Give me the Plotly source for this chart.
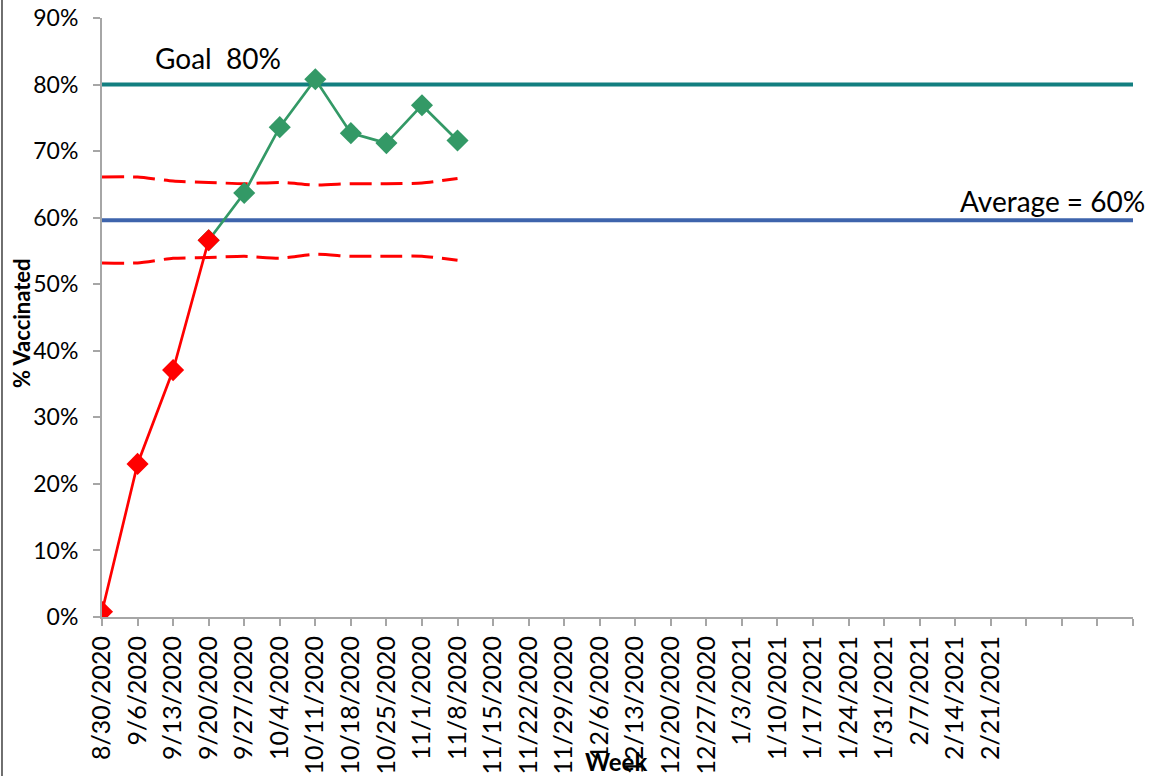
import plotly.graph_objects as go

weeks = ["8/30/2020", "9/6/2020", "9/13/2020", "9/20/2020", "9/27/2020", "10/4/2020",
         "10/11/2020", "10/18/2020", "10/25/2020", "11/1/2020", "11/8/2020", "11/15/2020",
         "11/22/2020", "11/29/2020", "12/6/2020", "12/13/2020", "12/20/2020", "12/27/2020",
         "1/3/2021", "1/10/2021", "1/17/2021", "1/24/2021", "1/31/2021", "2/7/2021",
         "2/14/2021", "2/21/2021", "", "", "", ""]

# % vaccinated (red = ramp-up phase, green = after process change)
red_idx = [0, 1, 2, 3]
red_vals = [0.008, 0.230, 0.371, 0.566]
green_idx = [3, 4, 5, 6, 7, 8, 9, 10]
green_vals = [0.566, 0.637, 0.736, 0.808, 0.727, 0.712, 0.769, 0.716]

# control limits
limit_idx = [0, 1, 2, 3, 4, 5, 6, 7, 8, 9, 10]
ucl = [0.661, 0.661, 0.655, 0.653, 0.651, 0.653, 0.649, 0.651, 0.651, 0.652, 0.659]
lcl = [0.532, 0.532, 0.539, 0.540, 0.542, 0.539, 0.545, 0.542, 0.542, 0.542, 0.536]

goal = 0.80
average = 0.596

FONT = "Lato"
fig = go.Figure()

fig.add_hline(y=goal, line=dict(color="#127F80", width=4), layer="below")
fig.add_hline(y=average, line=dict(color="#3E64AC", width=4), layer="below")

for lim in (ucl, lcl):
    fig.add_trace(go.Scatter(x=limit_idx, y=lim, mode="lines",
                             line=dict(color="#FF0000", width=3, dash="22px,9px", shape="spline", smoothing=0.6),
                             hoverinfo="skip"))
fig.add_trace(go.Scatter(x=green_idx, y=green_vals, mode="lines+markers",
                         line=dict(color="#339966", width=2.7),
                         marker=dict(symbol="diamond", size=17, color="#339966")))
fig.add_trace(go.Scatter(x=red_idx, y=red_vals, mode="lines+markers",
                         line=dict(color="#FF0000", width=2.7),
                         marker=dict(symbol="diamond", size=17, color="#FF0000")))

fig.add_annotation(text="Goal  80%", x=1.43, y=0.84, xref="x", yref="y", xanchor="left",
                   yanchor="middle", showarrow=False, font=dict(family=FONT, size=28, color="#000000"))
fig.add_annotation(text="Average = 60%", x=1.0136, y=0.625, xref="paper", yref="y", xanchor="right",
                   yanchor="middle", showarrow=False, font=dict(family=FONT, size=28, color="#000000"))
fig.add_annotation(text="<b>% Vaccinated</b>", x=-0.078, y=0.49, xref="paper", yref="paper",
                   textangle=-90, showarrow=False, xanchor="center", yanchor="middle",
                   font=dict(family=FONT, size=22, color="#000000"))
fig.add_annotation(text="<b>Week</b>", x=0.499, y=-0.242, xref="paper", yref="paper",
                   showarrow=False, xanchor="center", yanchor="middle",
                   font=dict(family=FONT, size=24, color="#000000"))

# outer chart-area border on the left
fig.add_shape(type="line", xref="paper", yref="paper", x0=-0.097, x1=-0.097, y0=-0.27, y1=1.04,
              line=dict(color="#404040", width=1.5))

fig.update_layout(
    width=1152, height=776,
    margin=dict(l=102, r=19, t=18, b=159, autoexpand=False),
    paper_bgcolor="white", plot_bgcolor="white",
    showlegend=False,
    font=dict(family=FONT, size=22, color="#000000"),
    xaxis=dict(range=[0, len(weeks) - 1], tickmode="array", tickvals=list(range(len(weeks))),
               ticktext=weeks, tickangle=-90, showgrid=False, zeroline=False, automargin=False,
               showline=True, linecolor="#A6A6A6", linewidth=2, ticks="outside",
               tickcolor="#A6A6A6", ticklen=7, tickwidth=2, tickfont=dict(family=FONT, size=25)),
    yaxis=dict(range=[0, 0.9], tickmode="array", tickvals=[i / 10 for i in range(10)],
               tickformat=".0%", showgrid=False, zeroline=False, showline=True, automargin=False,
               linecolor="#A6A6A6", linewidth=2, ticks="outside", tickcolor="#A6A6A6",
               ticklen=7, tickwidth=2, ticklabelstandoff=10, tickfont=dict(family=FONT, size=23)),
)

fig.write_html("out.html")
